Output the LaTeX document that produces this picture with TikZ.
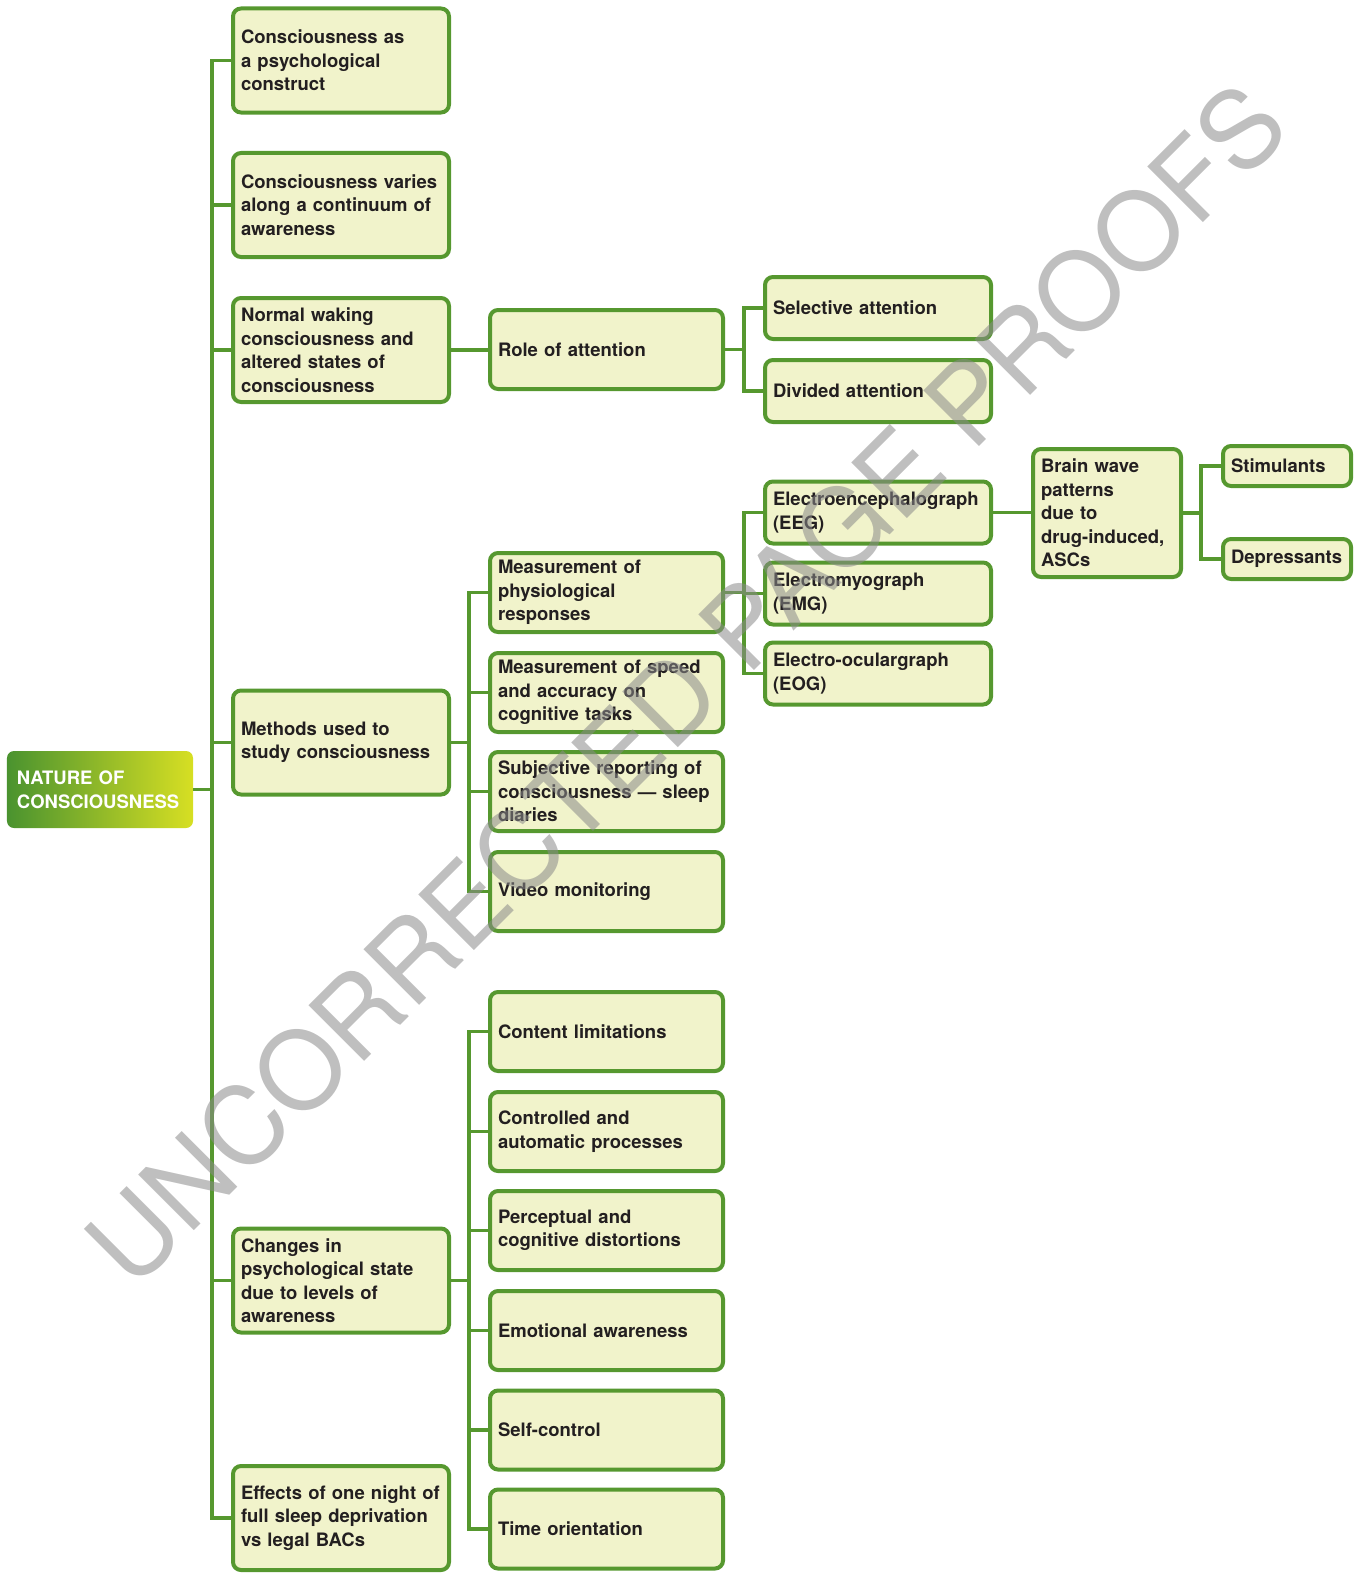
\documentclass[tikz,border=0pt]{standalone}
\usepackage{fontspec}
\setmainfont{TeX Gyre Heros}
\setsansfont{TeX Gyre Heros}
\newfontfamily\wmfont{TeX Gyre Heros}
\definecolor{bgreen}{HTML}{56982F}
\definecolor{bfill}{HTML}{F1F3CB}
\definecolor{tdark}{HTML}{231F20}
\definecolor{rootL}{HTML}{4A932F}
\definecolor{rootR}{HTML}{D7DF23}
\definecolor{wmgray}{HTML}{8A8A8A}
\tikzset{
  box/.style={draw=bgreen, line width=4bp, fill=bfill, rounded corners=8bp, align=left,
    text=tdark, font=\sffamily\bfseries\fontsize{18.5bp}{23.5bp}\selectfont, inner xsep=8bp, inner ysep=0bp},
  colA/.style={box, text width=200bp, minimum height=104bp},
  colB/.style={box, text width=217bp, minimum height=79bp},
  colC/.style={box, text width=210bp, minimum height=62bp},
  colD/.style={box, text width=132bp, minimum height=128bp},
  colE/.style={box, text width=112bp, minimum height=40bp},
  rootbox/.style={rounded corners=7bp, left color=rootL, right color=rootR, text=white, align=left,
    font=\sffamily\bfseries\fontsize{18.5bp}{23.5bp}\selectfont, text width=166bp, inner xsep=10bp,
    minimum height=77bp},
  conn/.style={draw=bgreen, line width=3.5bp},
  wm/.style={rotate=45, text=wmgray, opacity=0.55, font=\wmfont\fontsize{108bp}{114bp}\selectfont, inner sep=0bp}
}
\begin{document}
\begin{tikzpicture}[x=1bp,y=-1bp]
\useasboundingbox (0,0) rectangle (1365,1576);
% root
\node[rootbox] (root) at (100,789.5) {NATURE OF\\CONSCIOUSNESS};
% column 1
\node[colA] (a1) at (341,60.5) {Consciousness as\\a psychological\\construct};
\node[colA] (a2) at (341,205) {Consciousness varies\\along a continuum of\\awareness};
\node[colA] (a3) at (341,350) {Normal waking\\consciousness and\\altered states of\\consciousness};
\node[colA] (a4) at (341,742.5) {Methods used to\\study consciousness};
\node[colA] (a5) at (341,1280.5) {Changes in\\psychological state\\due to levels of\\awareness};
\node[colA] (a6) at (341,1518) {Effects of one night of\\full sleep deprivation\\vs legal BACs};
% column 2
\node[colB] (role) at (606.5,349.5) {Role of attention};
\node[colB] (m1) at (606.5,592.5) {Measurement of\\physiological\\responses};
\node[colB] (m2) at (606.5,692.5) {Measurement of speed\\and accuracy on\\cognitive tasks};
\node[colB] (m3) at (606.5,791.5) {Subjective reporting of\\consciousness — sleep\\diaries};
\node[colB] (m4) at (606.5,891.5) {Video monitoring};
\node[colB] (c1) at (606.5,1031.5) {Content limitations};
\node[colB] (c2) at (606.5,1131.5) {Controlled and\\automatic processes};
\node[colB] (c3) at (606.5,1230.5) {Perceptual and\\cognitive distortions};
\node[colB] (c4) at (606.5,1330.5) {Emotional awareness};
\node[colB] (c5) at (606.5,1430) {Self-control};
\node[colB] (c6) at (606.5,1529) {Time orientation};
% column 3
\node[colC] (sel) at (878,308) {Selective attention};
\node[colC] (div) at (878,391) {Divided attention};
\node[colC] (eeg) at (878,512.5) {Electroencephalograph\\(EEG)};
\node[colC] (emg) at (878,593.5) {Electromyograph\\(EMG)};
\node[colC] (eog) at (878,673.5) {Electro-oculargraph\\(EOG)};
% column 4 and 5
\node[colD] (brain) at (1107,513) {Brain wave\\patterns\\due to\\drug-induced,\\ASCs};
\node[colE] (stim) at (1287,466) {Stimulants};
\node[colE] (dep) at (1287,559) {Depressants};
% connectors
\foreach \t in {a1,a2,a3,a4,a5,a6}
  \draw[conn] (root.east) -- ++(19,0) |- (\t.west);
\draw[conn] (a3.east) -- (a3.east -| role.west);
\foreach \t in {m1,m2,m3,m4}
  \draw[conn] (a4.east) -- ++(18,0) |- (\t.west);
\foreach \t in {c1,c2,c3,c4,c5,c6}
  \draw[conn] (a5.east) -- ++(18,0) |- (\t.west);
\foreach \t in {sel,div}
  \draw[conn] (role.east) -- ++(19,0) |- (\t.west);
\foreach \t in {eeg,emg,eog}
  \draw[conn] (m1.east) -- ++(19,0) |- (\t.west);
\draw[conn] (eeg.east) -- (eeg.east -| brain.west);
\foreach \t in {stim,dep}
  \draw[conn] (brain.east) -- ++(18,0) |- (\t.west);
% watermark
\node[wm] (wmark) at (686,684) {UNCORRECTED PAGE PROOFS};
\end{tikzpicture}
\end{document}
